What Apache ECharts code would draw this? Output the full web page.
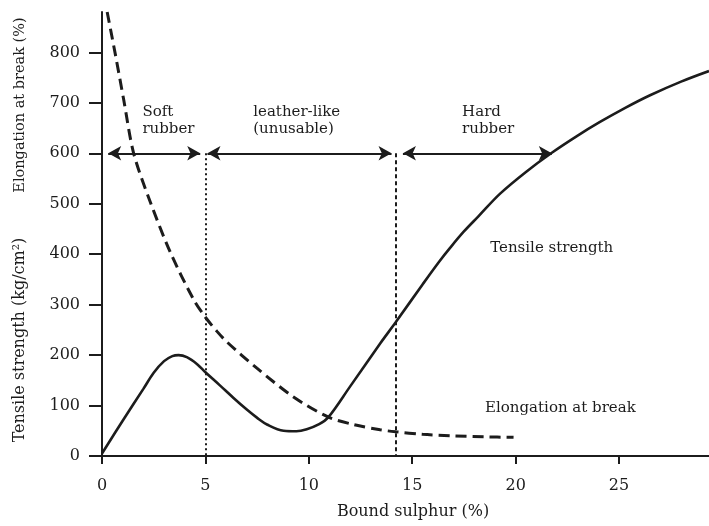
<!DOCTYPE html>
<html>
<head>
<meta charset="utf-8">
<script src="https://cdn.jsdelivr.net/npm/echarts@6/dist/echarts.min.js"></script>
<style>
  html, body { margin: 0; padding: 0; background: #ffffff; }
  #chart { width: 709px; height: 526px; }
</style>
</head>
<body>
<div id="chart"></div>
<script>
// Vulcanisation: effect of bound sulphur on tensile strength and elongation at break

// Tensile strength (kg/cm²) against bound sulphur (%)
const tensileX = [0, 1, 2, 2.5, 3.0, 3.4, 3.7, 4.1, 4.6, 5.0, 5.7, 6.36, 7.0, 7.49, 8.0, 8.78, 9.4, 9.9, 10.5, 10.95, 12, 13.45, 14.2, 15.5, 16.3, 16.84, 17.5, 18.2, 19.25, 20.5, 21.75, 23, 24.08, 25.3, 26.5, 28, 29.35];
const tensileY = [5, 70, 133, 165, 188, 198, 200, 196, 182, 166, 140, 115, 92, 76, 62, 50, 49, 53, 63, 77, 138, 223, 265, 340, 385, 413, 445, 475, 520, 563, 601, 635, 662, 690, 715, 742, 763];

// Elongation at break (%) against bound sulphur (%)
const elongX = [0.25, 0.65, 1.05, 1.53, 2.33, 3.3, 4.43, 5.0, 5.56, 6.04, 7.49, 9.26, 10.95, 12.2, 13.45, 14.2, 15.5, 17, 18.5, 19.9];
const elongY = [880, 795, 706, 600, 504, 404, 310, 275, 247, 226, 174, 117, 77, 62, 52, 48, 43, 40, 38, 37];

// Axis ticks
const xTickValues = [0, 5, 10, 15, 20, 25];
const yTickValues = [0, 100, 200, 300, 400, 500, 600, 700, 800];

// Rubber zones marked along the 600 line
const zoneLevel = 600;
const zoneArrows = [[0.3, 4.75], [5.1, 14.0], [14.55, 21.75]];
const zoneDividers = [5, 14.2];
const zoneNames = ['Soft\nrubber', 'leather-like\n(unusable)', 'Hard\nrubber'];
const zoneLabelAt = [[1.95, 665], [7.31, 665], [17.41, 665]];

// Curve captions
const curveNames = ['Tensile strength', 'Elongation at break'];
const curveLabelAt = [[18.77, 413], [18.52, 94]];

const INK = '#1c1c1c';
const FONT = '"DejaVu Serif", "Liberation Serif", serif';

const zip = (xs, ys) => xs.map((x, i) => [x, ys[i]]);

const arrowLines = zoneArrows.map(([a, b]) => [
  { coord: [a, zoneLevel], symbol: 'arrow' },
  { coord: [b, zoneLevel], symbol: 'arrow' }
]);
const dividerLines = zoneDividers.map((x, i) => [
  { coord: [x, zoneLevel], symbol: 'none',
    lineStyle: { type: i === 0 ? [2, 3] : [4, 3], width: 2, color: INK } },
  { coord: [x, 0], symbol: 'none' }
]);

const labelData = zoneNames.map((n, i) => ({ name: n, value: zoneLabelAt[i] }))
  .concat(curveNames.map((n, i) => ({ name: n, value: curveLabelAt[i] })));

const chart = echarts.init(document.getElementById('chart'), null, { renderer: 'canvas' });

chart.setOption({
  backgroundColor: '#ffffff',
  animation: false,
  grid: { left: 102, right: 0, top: 12, bottom: 70, containLabel: false },
  xAxis: {
    type: 'value',
    min: 0,
    max: 29.35,
    interval: 5,
    splitLine: { show: false },
    axisLine: { lineStyle: { color: INK, width: 2 } },
    axisTick: { length: 8, lineStyle: { color: INK, width: 2 }, customValues: xTickValues },
    axisLabel: { customValues: xTickValues, margin: 22, color: INK, fontFamily: FONT, fontSize: 16 }
  },
  yAxis: {
    type: 'value',
    min: 0,
    max: 880,
    interval: 100,
    splitLine: { show: false },
    axisLine: { show: true, lineStyle: { color: INK, width: 2 } },
    axisTick: { show: true, length: 13, lineStyle: { color: INK, width: 2 }, customValues: yTickValues },
    axisLabel: { customValues: yTickValues, margin: 22, color: INK, fontFamily: FONT, fontSize: 16 }
  },
  graphic: [
    { type: 'text', x: 20, y: 105, rotation: Math.PI / 2,
      style: { text: 'Elongation at break (%)', fill: INK, font: '14.5px ' + FONT, align: 'center', verticalAlign: 'middle' } },
    { type: 'text', x: 20, y: 340, rotation: Math.PI / 2,
      style: { text: 'Tensile strength (kg/cm²)', fill: INK, font: '16px ' + FONT, align: 'center', verticalAlign: 'middle' } },
    { type: 'text', x: 413, y: 512,
      style: { text: 'Bound sulphur (%)', fill: INK, font: '16px ' + FONT, align: 'center', verticalAlign: 'middle' } }
  ],
  series: [
    {
      name: 'Tensile strength',
      type: 'line',
      data: zip(tensileX, tensileY),
      smooth: 0.35,
      symbol: 'none',
      lineStyle: { color: INK, width: 2.6 },
      markLine: {
        silent: true,
        animation: false,
        symbolSize: [11, 13],
        label: { show: false },
        lineStyle: { color: INK, width: 2, type: 'solid' },
        data: arrowLines.concat(dividerLines)
      },
      z: 3
    },
    {
      name: 'Elongation at break',
      type: 'line',
      data: zip(elongX, elongY),
      smooth: 0.3,
      symbol: 'none',
      lineStyle: { color: INK, width: 3, type: [11, 6] },
      z: 3
    },
    {
      name: 'captions',
      type: 'scatter',
      data: labelData,
      symbolSize: 0.1,
      itemStyle: { color: 'rgba(0,0,0,0)', opacity: 1 },
      silent: true,
      label: {
        show: true,
        formatter: '{b}',
        position: 'right',
        distance: 0,
        align: 'left',
        color: INK,
        fontFamily: FONT,
        fontSize: 15,
        lineHeight: 17
      },
      z: 4
    }
  ]
});
</script>
</body>
</html>
